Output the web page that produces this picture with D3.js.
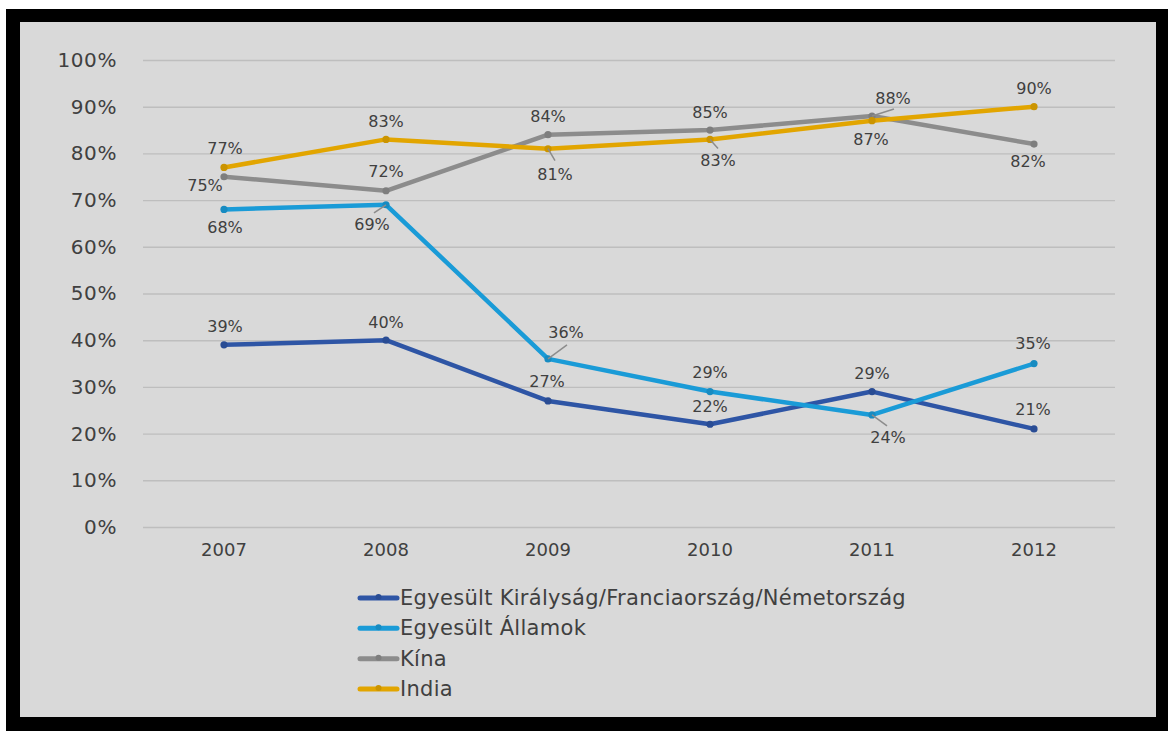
<!DOCTYPE html>
<html>
<head>
<meta charset="utf-8">
<script src="https://cdn.jsdelivr.net/npm/d3@7"></script>
<style>
html,body{margin:0;padding:0;background:#fff;}
svg{display:block;}
text{font-family:"DejaVu Sans",sans-serif;fill:#404040;}
</style>
</head>
<body>
<svg id="chart" width="1168" height="731"></svg>
<script>
// ---- data ----
const years = ["2007","2008","2009","2010","2011","2012"];
const seriesNames = ["Egyesült Királyság/Franciaország/Németország","Egyesült Államok","Kína","India"];
const ukFrDe = [0.39,0.40,0.27,0.22,0.29,0.21];
const usa    = [0.68,0.69,0.36,0.29,0.24,0.35];
const china  = [0.75,0.72,0.84,0.85,0.88,0.82];
const india  = [0.77,0.83,0.81,0.83,0.87,0.90];
const yTicks = [0,0.1,0.2,0.3,0.4,0.5,0.6,0.7,0.8,0.9,1.0];

// ---- styling / layout ----
const colors = ["#2E55A5","#1A9BD7","#8C8C8C","#E2A500"];
// label offsets [dx,dy] relative to point; optional leader end [lx,ly]
const labelPlace = [
  [[1,-18],[0,-18],[-1,-19],[0,-18],[0,-18],[-1,-19]],
  [[1,18],[-14,20,-12,8],[18,-26,19,-14],[0,-19],[16,23,15,11],[-1,-20]],
  [[-19,9],[0,-19],[0,-18],[0,-18],[21,-18,22,-7],[-6,17]],
  [[1,-19],[0,-18],[7,26,7,12],[8,21,8,9],[-1,19],[0,-18]]
];
const seriesVals = [ukFrDe, usa, china, india];

const svg = d3.select("#chart");
svg.append("rect").attr("x",6).attr("y",9).attr("width",1162).attr("height",722).attr("fill","#000");
svg.append("rect").attr("x",20).attr("y",22).attr("width",1136).attr("height",695).attr("fill","#D9D9D9");

const x = d3.scaleBand().domain(years).range([143,1115]).padding(0);
const y = d3.scaleLinear().domain([0,1]).range([527,60]);
const cx = d => x(d) + x.bandwidth()/2;

// gridlines + y axis
const yAxis = d3.axisLeft(y).tickValues(yTicks).tickFormat(d3.format(".0%")).tickSize(-(1115-143)).tickPadding(26);
const gy = svg.append("g").attr("transform","translate(143,0)").call(yAxis);
gy.select(".domain").remove();
gy.selectAll(".tick line").attr("stroke","#BEBEBE").attr("stroke-width",1.4);
gy.selectAll(".tick text").attr("font-size",20).attr("letter-spacing",0.6).attr("fill","#404040").attr("font-family","DejaVu Sans");

// x axis
const xAxis = d3.axisBottom(x).tickSize(0).tickPadding(16);
const gx = svg.append("g").attr("transform","translate(0,527)").call(xAxis);
gx.select(".domain").remove();
gx.selectAll(".tick text").attr("font-size",18).attr("fill","#404040").attr("font-family","DejaVu Sans");

const line = d3.line().x((d,i)=>cx(years[i])).y(d=>y(d));

seriesVals.forEach((vals,si)=>{
  const g = svg.append("g");
  g.append("path").datum(vals).attr("d",line).attr("fill","none")
    .attr("stroke",colors[si]).attr("stroke-width",4.5).attr("stroke-linejoin","round").attr("stroke-linecap","round");
  g.selectAll("circle").data(vals).join("circle")
    .attr("cx",(d,i)=>cx(years[i])).attr("cy",d=>y(d)).attr("r",3.6)
    .attr("fill",d3.color(colors[si]).darker(0.3));
});

// labels
seriesVals.forEach((vals,si)=>{
  const g = svg.append("g");
  vals.forEach((v,i)=>{
    const p = labelPlace[si][i];
    const px = cx(years[i]), py = y(v);
    if (p.length>2){
      g.append("line").attr("x1",px).attr("y1",py).attr("x2",px+p[2]).attr("y2",py+p[3])
        .attr("stroke","#8C8C8C").attr("stroke-width",1.5);
    }
    g.append("text").attr("x",px+p[0]).attr("y",py+p[1]).attr("text-anchor","middle")
      .attr("dominant-baseline","central").attr("font-size",16).text(d3.format(".0%")(v));
  });
});

// legend
const legY = d3.scalePoint().domain(seriesNames).range([598,689]);
const lg = svg.append("g");
seriesNames.forEach((n,si)=>{
  const yy = legY(n);
  lg.append("line").attr("x1",360).attr("x2",397).attr("y1",yy).attr("y2",yy)
    .attr("stroke",colors[si]).attr("stroke-width",5).attr("stroke-linecap","round");
  lg.append("circle").attr("cx",378.5).attr("cy",yy-1).attr("r",3).attr("fill",d3.color(colors[si]).darker(0.3));
  lg.append("text").attr("x",400).attr("y",yy).attr("dominant-baseline","central")
    .attr("font-size",21).attr("letter-spacing",0.3).text(n);
});
</script>
</body>
</html>
